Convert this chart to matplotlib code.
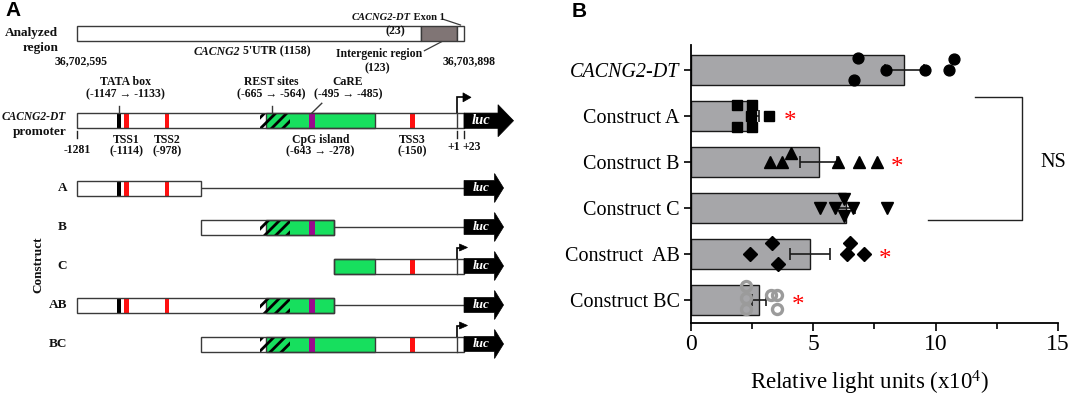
import numpy as np
import matplotlib
matplotlib.use('Agg')
import matplotlib.pyplot as plt
from matplotlib.patches import Rectangle, Polygon

plt.rcParams['font.family'] = ['Liberation Serif', 'DejaVu Serif']
plt.rcParams['mathtext.default'] = 'regular'
plt.rcParams['hatch.linewidth'] = 2.0

# ---------------- data: panel A (bp relative to CACNG2-DT +1) ----------------
promoter_start = -1281
promoter_end = 23
analyzed_coords = ['36,702,595', '36,703,898']
analyzed_segments = [1158, 123, 23]          # 5'UTR, intergenic, exon 1
tata_box = [-1147, -1133]
tss_sites = [-1114, -978, -150]
tss_labels = ['TSS1', 'TSS2', 'TSS3']
rest_sites = [-665, -564]
care_site = [-495, -485]
cpg_island = [-643, -278]
construct_names = ['A', 'B', 'C', 'AB', 'BC']
construct_starts = [-1281, -863, -414, -1281, -863]
construct_ends = [-863, -414, 23, -414, 23]

# ---------------- data: panel B (relative light units, x10^4) ----------------
groups = ['CACNG2-DT', 'Construct A', 'Construct B', 'Construct C', 'Construct  AB', 'Construct BC']
means = [8.72, 2.60, 5.23, 6.33, 4.87, 2.79]
sems = [0.80, 0.20, 0.75, 0.38, 0.80, 0.27]
rlu_dt = [6.84, 6.67, 7.96, 9.57, 10.55, 10.75]
rlu_a = [1.91, 2.52, 1.91, 2.52, 2.45, 3.19]
rlu_b = [3.24, 3.72, 4.08, 6.03, 6.87, 7.59]
rlu_c = [5.28, 5.88, 6.26, 6.26, 6.63, 8.03]
rlu_ab = [2.41, 3.33, 3.58, 6.37, 6.49, 7.08]
rlu_bc = [2.25, 2.25, 2.25, 3.26, 3.52, 3.52]
significant = [False, True, True, False, True, True]

# ---------------- layout ----------------
W, H = 1072, 401
fig = plt.figure(figsize=(W / 100, H / 100), dpi=100)

EDGE = '#3a3a3a'
GREEN = '#17df5e'
PURPLE = '#9a0a8c'
RED = '#ff1010'
GREYBOX = '#807575'
FS = 8.5

# ===== Panel A =====
S = 0.2968                      # px per bp
X0 = promoter_start - 77 / S    # bp at left figure edge
def X(p):
    return X0 + p / S
def L(p):
    return p / S

ax = fig.add_axes([0, 0, 540 / W, 1])
ax.set_xlim(X0, X(540))
ax.set_ylim(H, 0)
ax.axis('off')

TB = dict(fontweight='bold', color='#111111')

# analyzed region bar
seg_colors = ['white', GREYBOX, 'white']
x = promoter_start
for seg, c in zip(analyzed_segments, seg_colors):
    ax.add_patch(Rectangle((x, 26), seg, 14.7, facecolor=c, edgecolor=EDGE, lw=1.0, zorder=2))
    x += seg
ax.text(X(58.4), 32.7, 'Analyzed', ha='right', va='center', fontsize=9.5, **TB)
ax.text(X(58.4), 47.7, 'region', ha='right', va='center', fontsize=9.5, **TB)
ax.text(promoter_start + L(4), 61, analyzed_coords[0], ha='center', va='center', fontsize=FS, **TB)
ax.text(X(469), 61, analyzed_coords[1], ha='center', va='center', fontsize=FS, **TB)

def two_part(xp, yp, p1, p2, size):
    t1 = ax.text(X(xp), yp, p1, fontsize=size, fontstyle='italic', ha='left', va='center', **TB)
    ax.annotate(p2, xy=(1, 0.5), xycoords=t1, fontsize=size, ha='left', va='center', **TB)

two_part(194, 51.7, 'CACNG2', " 5'UTR (%d)" % analyzed_segments[0], FS)
two_part(352, 17.3, 'CACNG2-DT', ' Exon 1', 7.6)
ax.text(X(395), 31.7, '(%d)' % analyzed_segments[2], ha='center', va='center', fontsize=FS, **TB)
ax.text(X(379), 54.3, 'Intergenic region', ha='center', va='center', fontsize=FS, **TB)
ax.text(X(377.3), 68.3, '(%d)' % analyzed_segments[1], ha='center', va='center', fontsize=FS, **TB)
ax.plot([X(443.3), X(460.5)], [19.3, 25], color=EDGE, lw=0.9)
ax.plot([X(424.4), X(441.6)], [50.7, 41.7], color=EDGE, lw=0.9)


def luc_arrow(yc, h, head_half, head_at, tip_at, size):
    x0 = promoter_end
    xh = promoter_end + L(head_at)
    xt = promoter_end + L(tip_at)
    pts = [(x0, yc - h / 2), (xh, yc - h / 2), (xh, yc - head_half), (xt, yc),
           (xh, yc + head_half), (xh, yc + h / 2), (x0, yc + h / 2)]
    ax.add_patch(Polygon(pts, closed=True, facecolor='black', edgecolor='black', lw=0.5, zorder=6))
    ax.text(x0 + L(17.5), yc, 'luc', color='white', fontsize=size, fontweight='bold',
            fontstyle='italic', ha='center', va='center', zorder=7)


def bent_arrow(ytop, rise, head_base, tip, half):
    ax.plot([1, 1, 1 + L(head_base)], [ytop, ytop - rise, ytop - rise], color='black', lw=1.2,
            zorder=6, solid_joinstyle='miter')
    yy = ytop - rise
    ax.add_patch(Polygon([(1 + L(head_base), yy - half), (1 + L(tip), yy), (1 + L(head_base), yy + half)],
                         closed=True, facecolor='black', edgecolor='black', lw=0.5, zorder=6))


def feature_box(lo, hi, yc, h, arrow_rise, arrow_half, arrow_tip):
    y0 = yc - h / 2
    ax.add_patch(Rectangle((lo, y0), hi - lo, h, facecolor='white', edgecolor='none', zorder=2))
    g0, g1 = max(lo, cpg_island[0]), min(hi, cpg_island[1])
    if g1 > g0:
        ax.add_patch(Rectangle((g0, y0), g1 - g0, h, facecolor=GREEN, edgecolor=EDGE, lw=1.0, zorder=3))
    r0, r1 = max(lo, rest_sites[0]), min(hi, rest_sites[1])
    if r1 > r0:
        ax.add_patch(Rectangle((r0, y0), r1 - r0, h, facecolor='none', edgecolor='black', lw=0,
                               hatch='///', zorder=4))
    if lo <= care_site[0] and hi >= care_site[1]:
        c = np.mean(care_site)
        ax.add_patch(Rectangle((c - L(3.2), y0), L(6.4), h, facecolor=PURPLE, edgecolor='none', zorder=5))
    for t in tss_sites:
        if lo < t < hi:
            ax.add_patch(Rectangle((t - L(2.2), y0), L(4.4), h, facecolor=RED, edgecolor='none', zorder=5))
    if lo <= tata_box[0] and hi >= tata_box[1]:
        ax.add_patch(Rectangle((tata_box[0], y0), tata_box[1] - tata_box[0], h, facecolor='black',
                               edgecolor='none', zorder=5))
    if lo < 1 < hi:
        ax.plot([1, 1], [y0, y0 + h], color=EDGE, lw=1.0, zorder=6)
        bent_arrow(y0, arrow_rise, arrow_tip - 8, arrow_tip, arrow_half)
    ax.add_patch(Rectangle((lo, y0), hi - lo, h, facecolor='none', edgecolor=EDGE, lw=1.0, zorder=6))


# promoter row
PY = 120.7
feature_box(promoter_start, promoter_end, PY, 15.3, 15.7, 4.5, 13.5)
luc_arrow(PY, 15.3, 16, 34, 49.5, 10.5)
ax.text(X(65.7), 116.7, 'CACNG2-DT', ha='right', va='center', fontsize=8.3, fontstyle='italic', **TB)
ax.text(X(66.7), 131.7, 'promoter', ha='right', va='center', fontsize=9.5, **TB)

ax.plot([np.mean(tata_box)] * 2, [106, PY - 7.6], color=EDGE, lw=1.0)
ax.plot([np.mean(rest_sites) - L(3)] * 2, [106, PY - 7.6], color=EDGE, lw=1.0)
ax.plot([np.mean(care_site) + L(10), np.mean(care_site)], [103.3, PY - 7.6], color=EDGE, lw=1.0)
ax.text(X(125.4), 81.7, 'TATA box', ha='center', va='center', fontsize=FS, **TB)
ax.text(X(125), 94, '(%d \u2192 %d)' % tuple(tata_box), ha='center', va='center', fontsize=FS, **TB)
ax.text(X(271.5), 81.7, 'REST sites', ha='center', va='center', fontsize=FS, **TB)
ax.text(X(271.5), 94, '(%d \u2192 %d)' % tuple(rest_sites), ha='center', va='center', fontsize=FS, **TB)
ax.text(X(348), 81.7, 'CaRE', ha='center', va='center', fontsize=FS, **TB)
ax.text(X(348.5), 94, '(%d \u2192 %d)' % tuple(care_site), ha='center', va='center', fontsize=FS, **TB)

for xv in [promoter_start, 1, promoter_end]:
    ax.plot([xv, xv], [130.5, 138], color='#222222', lw=1.0)
ax.text(promoter_start, 150, '%d' % promoter_start, ha='center', va='center', fontsize=FS, **TB)
ax.text(1 - L(4), 147.5, '+1', ha='center', va='center', fontsize=FS, **TB)
ax.text(promoter_end + L(8), 147.5, '+%d' % promoter_end, ha='center', va='center', fontsize=FS, **TB)
for t, name in zip(tss_sites, tss_labels):
    ax.text(t, 140, name, ha='center', va='center', fontsize=FS, **TB)
    ax.text(t, 151.5, '(%d)' % t, ha='center', va='center', fontsize=FS, **TB)
ax.text(np.mean(cpg_island), 140, 'CpG island', ha='center', va='center', fontsize=FS, **TB)
ax.text(np.mean(cpg_island), 151.5, '(%d \u2192 %d)' % tuple(cpg_island), ha='center', va='center',
        fontsize=FS, **TB)

# construct rows
row_y = [188, 227, 266, 305, 344]
for name, lo, hi, yc in zip(construct_names, construct_starts, construct_ends, row_y):
    if hi < promoter_end:
        ax.plot([hi, promoter_end], [yc, yc], color=EDGE, lw=1.0, zorder=1)
    feature_box(lo, hi, yc, 15, 11, 3.5, 10)
    luc_arrow(yc, 15, 14.5, 30.5, 39.5, 9.5)
    ax.text(X(67), yc, name, ha='right', va='center', fontsize=9.5, **TB)
ax.text(X(38), 265, 'Construct', rotation=90, ha='center', va='center', fontsize=9.5, **TB)

fig.text(13.5 / W, 1 - 11 / H, 'A', family='Liberation Sans', fontweight='bold', fontsize=15,
         ha='center', va='center')
fig.text(579.5 / W, 1 - 11.5 / H, 'B', family='Liberation Sans', fontweight='bold', fontsize=15,
         ha='center', va='center')

# ===== Panel B =====
bx0, bx1, by0, by1 = 690.7, 1058.0, 45.0, 322.7
axb = fig.add_axes([bx0 / W, 1 - by1 / H, (bx1 - bx0) / W, (by1 - by0) / H])
ypos = np.arange(len(groups))
axb.barh(ypos, means, height=0.64, color='#a6a6a9', edgecolor='#1a1a1a', linewidth=1.0, zorder=2)
axb.errorbar(means, ypos, xerr=sems, fmt='none', ecolor='#1a1a1a', elinewidth=1.2, capsize=4.3,
             capthick=1.2, zorder=3)

all_pts = [rlu_dt, rlu_a, rlu_b, rlu_c, rlu_ab, rlu_bc]
jitter = [[-0.25, 0.22, 0, 0, 0, -0.24],
          [-0.23, -0.23, 0.23, 0.23, 0, 0],
          [0, 0, -0.2, 0, 0, 0],
          [0, 0, -0.2, 0.18, 0, 0],
          [0, -0.25, 0.21, 0, -0.25, 0],
          [-0.3, 0.2, -0.05, -0.12, -0.12, 0.2]]
mstyles = [dict(marker='o', ms=7.8, mfc='black', mec='black'),
           dict(marker='s', ms=7.8, mfc='black', mec='black'),
           dict(marker='^', ms=8.8, mfc='black', mec='black'),
           dict(marker='v', ms=8.8, mfc='black', mec='black'),
           dict(marker='D', ms=6.8, mfc='black', mec='black'),
           dict(marker='o', ms=7.2, mfc='none', mec='#9b9b9b', mew=2.4)]
for i, (pts, jit, st) in enumerate(zip(all_pts, jitter, mstyles)):
    axb.plot(pts, i + np.array(jit), ls='none', zorder=4, **st)
    if significant[i]:
        axb.text(max(pts) + 0.85, i + 0.12, '*', color='red', fontsize=18, ha='center', va='center',
                 zorder=5)

axb.plot([11.61, 13.54, 13.54, 9.70], [0.58, 0.58, 3.25, 3.25], color='#222222', lw=1.0, clip_on=False)
axb.text(14.3, 2.0, 'NS', fontsize=14.5, ha='left', va='center', clip_on=False)

axb.set_xlim(0, 15)
axb.set_ylim(5.49, -0.543)
axb.set_xticks([0, 5, 10, 15])
axb.set_xticks([2.5, 7.5, 12.5], minor=True)
axb.set_yticks(ypos)
axb.set_yticklabels(groups, fontsize=14.5)
axb.get_yticklabels()[0].set_fontstyle('italic')
axb.tick_params(axis='x', labelsize=17, length=6, width=1.2, pad=2)
axb.tick_params(axis='x', which='minor', length=4, width=1.2)
axb.tick_params(axis='y', length=5, width=1.2, pad=3)
for s in ['top', 'right']:
    axb.spines[s].set_visible(False)
for s in ['left', 'bottom']:
    axb.spines[s].set_linewidth(1.3)
axb.set_xlabel('Relative light units (x10$^{4}$)', fontsize=16.5)
axb.xaxis.set_label_coords((870 - bx0) / (bx1 - bx0), (by1 - 383.3) / (by1 - by0))
axb.xaxis.label.set_va('center')

fig.savefig('out.png', dpi=100)
